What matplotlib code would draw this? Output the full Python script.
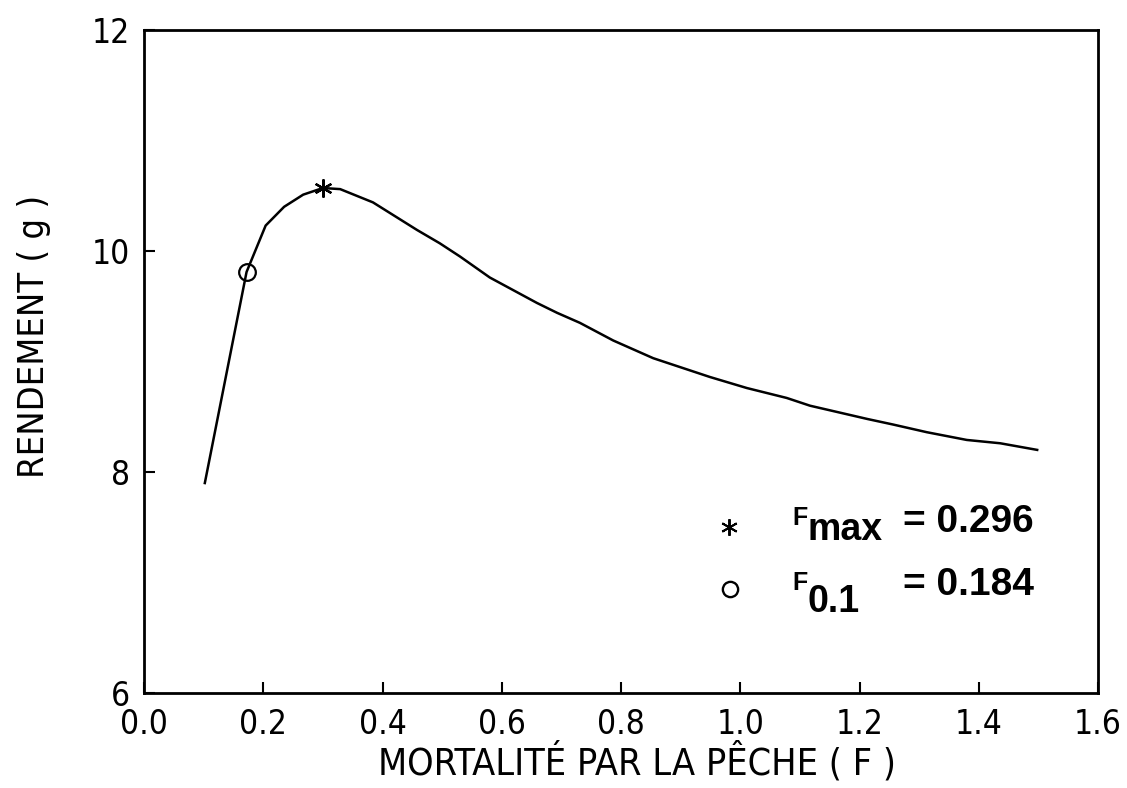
import matplotlib
matplotlib.use("Agg")
import matplotlib.pyplot as plt
from matplotlib import font_manager as fm

# ---- data ----
F_values = [0.102, 0.172, 0.204, 0.235, 0.267, 0.300, 0.329, 0.384, 0.458, 0.496,
            0.530, 0.580, 0.659, 0.693, 0.731, 0.787, 0.854, 0.949, 1.011,
            1.078, 1.117, 1.213, 1.256, 1.313, 1.380, 1.436, 1.498]
yield_values = [7.90, 9.81, 10.23, 10.40, 10.51, 10.57, 10.56, 10.44, 10.19, 10.07,
                9.95, 9.76, 9.53, 9.44, 9.35, 9.19, 9.03, 8.86, 8.76,
                8.67, 8.60, 8.48, 8.43, 8.36, 8.29, 8.26, 8.20]
fmax_point = (0.300, 10.57)
f01_point = (0.172, 9.81)
x_ticks = [0.0, 0.2, 0.4, 0.6, 0.8, 1.0, 1.2, 1.4, 1.6]
x_ticklabels = ["0.0", "0.2", "0.4", "0.6", "0.8", "1.0", "1.2", "1.4", "1.6"]
y_ticks = [6, 8, 10, 12]
y_ticklabels = ["6", "8", "10", "12"]
fmax_text = "= 0.296"
f01_text = "= 0.184"

names = {f.name for f in fm.fontManager.ttflist}
narrow_name = "Liberation Sans Narrow" if "Liberation Sans Narrow" in names else "DejaVu Sans"
narrow = fm.FontProperties(family=[narrow_name, "DejaVu Sans"], stretch="condensed")
boldfam = ["Liberation Sans", "DejaVu Sans"]

fig = plt.figure(figsize=(11.27, 7.88), dpi=100)
ax = fig.add_axes([144/1127, 95/788, 954/1127, 663/788])

ax.plot(F_values, yield_values, color="black", lw=1.8, solid_joinstyle="round")
ax.plot([fmax_point[0]], [fmax_point[1]], marker=(6, 2, 0), ms=13, mew=1.6,
        color="black", ls="none")
ax.plot([f01_point[0]], [f01_point[1]], marker="o", ms=12, mfc="none", mew=1.6,
        mec="black", ls="none")

ax.set_xlim(0.0, 1.6)
ax.set_ylim(6, 12)
ax.set_xticks(x_ticks)
ax.set_xticklabels(x_ticklabels, fontproperties=narrow, fontsize=24)
ax.set_yticks(y_ticks)
ax.set_yticklabels(y_ticklabels, fontproperties=narrow, fontsize=24)
ax.tick_params(direction="in", length=8, width=1.5)
ax.tick_params(axis="x", pad=11)
ax.tick_params(axis="y", pad=10)
for s in ax.spines.values():
    s.set_linewidth(2)

ax.set_xlabel("MORTALITÉ PAR LA PÊCHE ( F )", fontproperties=narrow, fontsize=27)
ax.xaxis.set_label_coords(0.517, -0.074)
ax.set_ylabel("RENDEMENT ( g )", fontproperties=narrow, fontsize=26)
ax.yaxis.set_label_coords(-0.097, 0.538)

# legend-like annotation
ax.plot([0.981], [7.50], marker=(6, 2, 0), ms=12, mew=1.4, color="black", ls="none")
ax.plot([0.983], [6.94], marker="o", ms=11, mfc="none", mew=1.7, mec="black", ls="none")
ax.text(1.087, 7.52, "F", family=boldfam, fontweight="bold", fontsize=18, va="baseline")
ax.text(1.112, 7.385, "max", family=boldfam, fontweight="bold", fontsize=27, va="baseline")
ax.text(1.273, 7.457, fmax_text, family=boldfam, fontweight="bold", fontsize=28, va="baseline")
ax.text(1.087, 6.93, "F", family=boldfam, fontweight="bold", fontsize=18, va="baseline")
ax.text(1.112, 6.73, "0.1", family=boldfam, fontweight="bold", fontsize=27, va="baseline")
ax.text(1.273, 6.887, f01_text, family=boldfam, fontweight="bold", fontsize=28, va="baseline")

fig.savefig("out.png", dpi=100, facecolor="white")
